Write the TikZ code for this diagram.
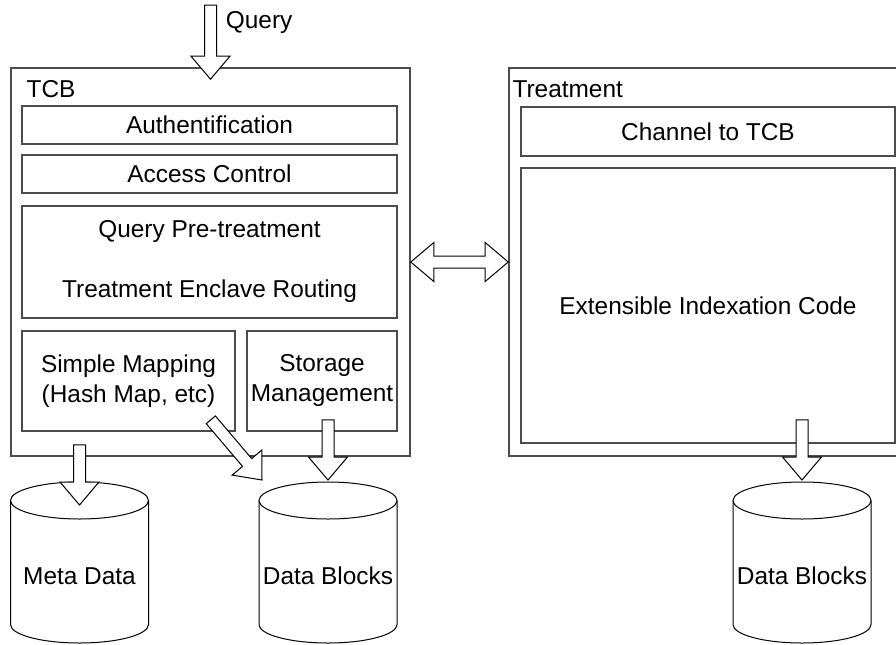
\documentclass[tikz,border=0pt]{standalone}
\usepackage{fontspec}
\setmainfont{Liberation Sans}
\usetikzlibrary{calc}

\tikzset{
  panel/.style={draw=black!70, line width=0.8pt, inner sep=0pt},
  part/.style={draw=black!70, line width=0.8pt, inner sep=0pt, align=center},
  caption/.style={anchor=west, inner sep=0pt},
  dbstore/.style={inner sep=0pt},
  dbline/.style={draw=black, line width=0.5pt, fill=white},
  hollowarrow/.style={draw=black, fill=white, line width=0.5pt,
    to path={
      let \p1=(\tikztostart), \p2=(\tikztotarget),
          \p3=($(\p2)!11.5pt!(\p1)$) in
      ($(\p1)!3pt!90:(\p2)$) -- ($(\p3)!3pt!90:(\p2)$) -- ($(\p3)!9.75pt!90:(\p2)$)
      -- (\p2) -- ($(\p3)!9.75pt!-90:(\p2)$) -- ($(\p3)!3pt!-90:(\p2)$)
      -- ($(\p1)!3pt!-90:(\p2)$) -- cycle
    }},
  hollowdarrow/.style={draw=black, fill=white, line width=0.5pt,
    to path={
      let \p1=(\tikztostart), \p2=(\tikztotarget),
          \p3=($(\p1)!11.5pt!(\p2)$), \p4=($(\p2)!11.5pt!(\p1)$) in
      (\p1) -- ($(\p3)!9.75pt!90:(\p2)$) -- ($(\p3)!3pt!90:(\p2)$)
      -- ($(\p4)!3pt!90:(\p2)$) -- ($(\p4)!9.75pt!90:(\p2)$) -- (\p2)
      -- ($(\p4)!9.75pt!-90:(\p2)$) -- ($(\p4)!3pt!-90:(\p2)$)
      -- ($(\p3)!3pt!-90:(\p2)$) -- ($(\p3)!9.75pt!-90:(\p2)$) -- cycle
    }}
}

\begin{document}
\begin{tikzpicture}[x=0.5pt,y=-0.5pt,font=\fontsize{12.2}{15}\selectfont]
  \useasboundingbox (0,0) rectangle (896,644);
  \clip (0,0) rectangle (896,644);

  % the two enclaves
  \node (tcb) [panel, minimum width=199.5pt, minimum height=194pt] at (210.5,262) {};
  \node (treatment) [panel, minimum width=200pt, minimum height=194pt] at (709,262) {};
  \node (tcblbl) [caption] at ([shift={(8pt,-11pt)}]tcb.north west) {TCB};
  \node (treatlbl) [caption] at ([shift={(2pt,-11pt)}]treatment.north west) {Treatment};

  % inside the TCB
  \node (auth) [part, minimum width=187.5pt, minimum height=19pt] at (209.5,125) {Authentification};
  \node (access) [part, minimum width=187.5pt, minimum height=19pt] at (209.5,174) {Access Control};
  \node (routing) [part, minimum width=187.5pt, minimum height=56pt] at (209.5,262)
    {Query Pre-treatment\\[15pt]Treatment Enclave Routing};
  \node (mapping) [part, minimum width=106.5pt, minimum height=50pt] at (128.5,381)
    {Simple Mapping\\(Hash Map, etc)};
  \node (storage) [part, minimum width=75pt, minimum height=50pt] at (322,381)
    {Storage\\Management};

  % inside the treatment enclave
  \node (channel) [part, minimum width=187pt, minimum height=24.5pt] at (708,131.5) {Channel to TCB};
  \node (indexcode) [part, minimum width=187pt, minimum height=137.5pt] at (708,305.5)
    {Extensible Indexation Code};

  % storage
  \coordinate (meta) at (79.5,576);
  \coordinate (blocksA) at (328,576);
  \coordinate (blocksB) at (802,576);
  \foreach \db in {meta,blocksA,blocksB}{
    \draw[dbline] ($(\db)+(-69,-75.5)$) -- ($(\db)+(-69,48.5)$)
      arc[start angle=180, end angle=0, x radius=69, y radius=18.5]
      -- ($(\db)+(69,-75.5)$);
    \draw[dbline] ($(\db)+(0,-75.5)$) ellipse[x radius=69, y radius=18.5];
  }
  \node (metatxt) [dbstore] at (meta) {Meta Data};
  \node (blocksAtxt) [dbstore] at (blocksA) {Data Blocks};
  \node (blocksBtxt) [dbstore] at (blocksB) {Data Blocks};

  % flows
  \coordinate (qtop) at ($(tcb.north)+(0,-62)$);
  \node (querylbl) [caption] at ([shift={(7.5pt,-8.5pt)}]qtop) {Query};
  \draw[hollowarrow] (qtop) to ([yshift=-6pt]tcb.north);
  \draw[hollowdarrow] (tcb.east) to (treatment.west);
  \draw[hollowarrow] ($(meta |- tcb.south)+(0,-12)$) to ($(meta)+(0,-71)$);
  \draw[hollowarrow] ($(mapping.south east)+(-25,-12)$) to ($(blocksA)+(-66,-96)$);
  \draw[hollowarrow] ($(blocksA |- storage.south)+(0,-12)$) to ($(blocksA)+(0,-96)$);
  \draw[hollowarrow] ($(blocksB |- indexcode.south)+(0,-24)$) to ($(blocksB)+(0,-96)$);
\end{tikzpicture}
\end{document}
